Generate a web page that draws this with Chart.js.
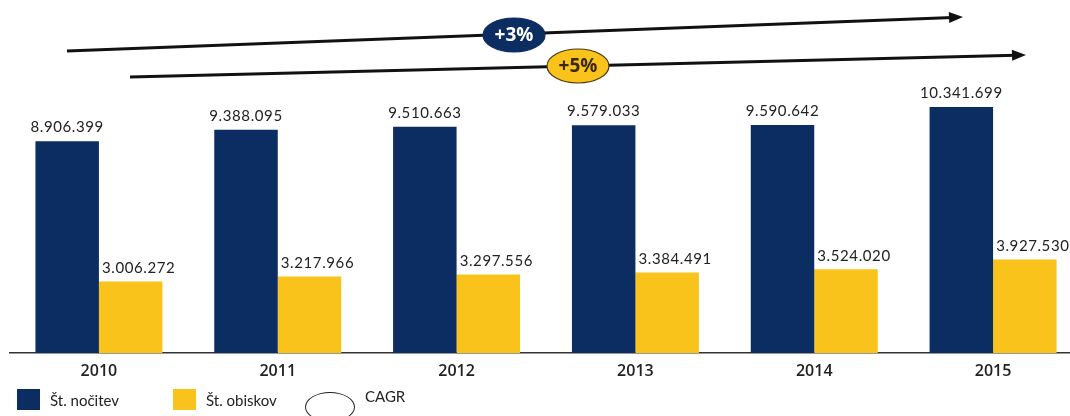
<!DOCTYPE html>
<html>
<head>
<meta charset="utf-8">
<script src="https://cdn.jsdelivr.net/npm/chart.js@4.4.1/dist/chart.umd.min.js"></script>
<style>
  html, body { margin: 0; padding: 0; background: #fff; overflow: hidden; width: 1070px; height: 416px; }
  #wrap { position: relative; width: 1084px; height: 416px; }
  canvas { display: block; }
  .leg { position: absolute; font: 15px Lato, sans-serif; color: #222; white-space: nowrap; }
  .sq { position: absolute; width: 23px; height: 21px; }
</style>
</head>
<body>
<div id="wrap">
  <canvas id="grafico" width="1084" height="416"></canvas>
  <div class="sq" style="left:17px;top:389px;background:#0b2d62"></div>
  <div class="leg" style="left:50px;top:391px">Št. nočitev</div>
  <div class="sq" style="left:173px;top:389px;background:#f9c31b"></div>
  <div class="leg" style="left:206px;top:391px">Št. obiskov</div>
  <div style="position:absolute;left:305px;top:392px;width:48px;height:28px;border:1px solid #222;border-radius:50%"></div>
  <div class="leg" style="left:365px;top:387px">CAGR</div>
</div>
<script>
const leta = ["2010", "2011", "2012", "2013", "2014", "2015"];
const nocitve = [8906399, 9388095, 9510663, 9579033, 9590642, 10341699];
const obiski = [3006272, 3217966, 3297556, 3384491, 3524020, 3927530];
const cagr = ["+3%", "+5%"];

const MODRA = "#0b2d62";
const RUMENA = "#f9c31b";

function formatSt(v) {
    return String(v).replace(/\B(?=(\d{3})+(?!\d))/g, ".");
}

// oznake vrednosti nad stolpci
const oznake = {
    id: "oznake",
    afterDatasetsDraw(chart) {
        const ctx = chart.ctx;
        ctx.save();
        ctx.font = "15px Lato, sans-serif";
        ctx.letterSpacing = "0.6px";
        ctx.fillStyle = "#222";
        ctx.textAlign = "center";
        ctx.textBaseline = "bottom";
        chart.data.datasets.forEach((ds, di) => {
            chart.getDatasetMeta(di).data.forEach((bar, i) => {
                const dx = di === 1 ? 8 : 0;
                ctx.fillText(formatSt(ds.data[i]), bar.x + dx, bar.y - 6);
            });
        });
        ctx.restore();
    }
};

// puscice CAGR
function puscica(ctx, x1, y1, x2, y2) {
    const ang = Math.atan2(y2 - y1, x2 - x1);
    ctx.beginPath();
    ctx.moveTo(x1, y1);
    ctx.lineTo(x2 - 10 * Math.cos(ang), y2 - 10 * Math.sin(ang));
    ctx.lineWidth = 3;
    ctx.strokeStyle = "#111";
    ctx.stroke();
    ctx.beginPath();
    ctx.moveTo(x2, y2);
    ctx.lineTo(x2 - 14 * Math.cos(ang) + 5.5 * Math.sin(ang), y2 - 14 * Math.sin(ang) - 5.5 * Math.cos(ang));
    ctx.lineTo(x2 - 14 * Math.cos(ang) - 5.5 * Math.sin(ang), y2 - 14 * Math.sin(ang) + 5.5 * Math.cos(ang));
    ctx.closePath();
    ctx.fillStyle = "#111";
    ctx.fill();
}

function elipsa(ctx, x, y, barva, obroba, tekst, barvaTeksta) {
    ctx.beginPath();
    ctx.ellipse(x, y, 31, 17, 0, 0, Math.PI * 2);
    ctx.fillStyle = barva;
    ctx.fill();
    ctx.lineWidth = 1.2;
    ctx.strokeStyle = obroba;
    ctx.stroke();
    ctx.font = "bold 19px 'Open Sans', sans-serif";
    ctx.fillStyle = barvaTeksta;
    ctx.textAlign = "center";
    ctx.textBaseline = "middle";
    ctx.fillText(tekst, x, y + 1);
}

const rast = {
    id: "rast",
    afterDraw(chart) {
        const ctx = chart.ctx;
        ctx.save();
        puscica(ctx, 67, 51, 963, 17);
        puscica(ctx, 130, 77, 1026, 55);
        elipsa(ctx, 514, 35, MODRA, MODRA, cagr[0], "#fff");
        elipsa(ctx, 578, 66, RUMENA, "#4a3a10", cagr[1], "#3a2a0a");
        ctx.restore();
    }
};

new Chart(document.getElementById("grafico"), {
    type: "bar",
    data: {
        labels: leta,
        datasets: [
            { label: "Št. nočitev", data: nocitve, backgroundColor: MODRA },
            { label: "Št. obiskov", data: obiski, backgroundColor: RUMENA }
        ]
    },
    options: {
        responsive: false,
        animation: false,
        layout: { padding: { left: 9.5, right: 1.5, top: 20, bottom: 0 } },
        datasets: { bar: { categoryPercentage: 0.71, barPercentage: 1.0 } },
        plugins: { legend: { display: false }, tooltip: { enabled: false } },
        scales: {
            x: {
                grid: { display: false, drawTicks: false },
                border: { display: true, color: "#333", width: 1.5 },
                ticks: { color: "#222", font: { family: "'Open Sans', sans-serif", size: 16, weight: "600" }, padding: 9 },
                afterFit: s => { s.height = 63; }
            },
            y: { display: false, min: 0, max: 14000000 }
        }
    },
    plugins: [oznake, rast]
});
</script>
</body>
</html>
